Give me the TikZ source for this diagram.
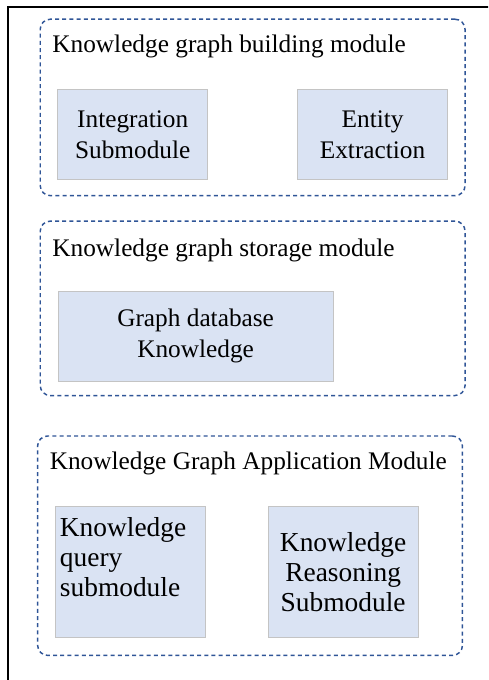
\documentclass[tikz,border=0pt]{standalone}
\usepackage{fontspec}
\setmainfont{Liberation Serif}
\usepackage{tikz}
\usetikzlibrary{positioning}
\definecolor{modblue}{HTML}{2F5597}
\definecolor{boxfill}{HTML}{DAE3F3}
\definecolor{boxgray}{HTML}{C4C4C4}
\tikzstyle{module} = [draw=modblue, dash pattern=on 0.1cm off 0.08cm, line width=1.05pt,
rounded corners=0.25cm, minimum width=10.62cm, inner sep=0pt]
\tikzstyle{block} = [draw=boxgray, fill=boxfill, rectangle, line width=0.6pt,
minimum height=2.25cm, minimum width=3.75cm, align=center, font=\fontsize{18}{22}\selectfont]
\tikzstyle{bigblock} = [block, minimum height=3.275cm, font=\fontsize{19.5}{21.3}\selectfont]
\tikzstyle{modtitle} = [inner sep=0pt, anchor=base west, font=\fontsize{18}{22}\selectfont]
\tikzstyle{frame} = [draw, line width=0.9pt]

\begin{document}
\begin{tikzpicture}[auto, node distance=2cm]
		\useasboundingbox (0,0) rectangle (12.2,-17);
		\clip (0,0) rectangle (12.2,-17);
		\draw [frame] (0.2,-0.175) rectangle (12.6,-17.4);
		
		\node [module, minimum height=4.41cm, anchor=north west] (building) at (0.9875,-0.4625) {};
		\node [module, minimum height=4.36cm] (storage) [below=0.6cm of building] {};
		\node [module, minimum height=5.485cm, xshift=-0.065cm] (application) [below=0.975cm of storage] {};
		
		\node [modtitle, below right=0.845cm and 0.315cm of building.north west, anchor=base west] (buildingTitle) {Knowledge graph building module};
		\node [modtitle, below right=0.9cm and 0.315cm of storage.north west, anchor=base west] (storageTitle) {Knowledge graph storage module};
		\node [modtitle, below right=0.86cm and 0.315cm of application.north west, anchor=base west] (applicationTitle) {Knowledge Graph Application Module};
		
		\node [block] (integration) [below right=1.77cm and 0.445cm of building.north west] {Integration\\Submodule};
		\node [block] (entity) [right=2.225cm of integration] {Entity\\Extraction};
		
		\node [block, minimum width=6.885cm] (graphDb) [below right=1.7575cm and 0.45cm of storage.north west] {Graph database\\Knowledge};
		
		\node [bigblock, align=left, text width=3.5cm, inner xsep=0.125cm] (query) [below right=1.775cm and 0.44cm of application.north west] {Knowledge\\query\\submodule\\~};
		\node [bigblock] (reasoning) [right=1.56cm of query] {Knowledge\\Reasoning\\Submodule};
	
	%\node [block] (reasoning) [right=1.5cm of query] {};
	\end{tikzpicture}
\end{document}
